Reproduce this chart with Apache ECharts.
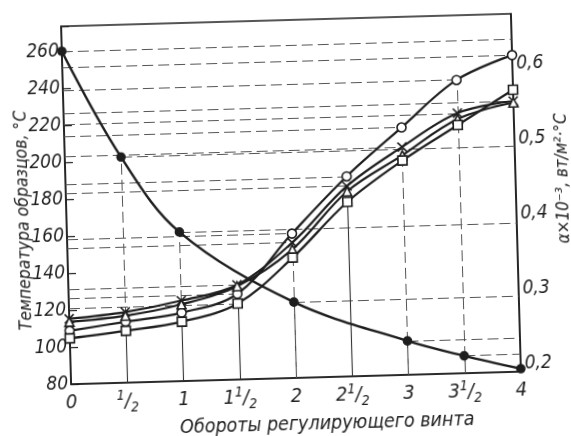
<!DOCTYPE html>
<html><head><meta charset="utf-8">
<script src="https://cdn.jsdelivr.net/npm/echarts@6/dist/echarts.min.js"></script>
<style>
html,body{margin:0;padding:0;background:#fff;overflow:hidden}
#c{width:571px;height:436px;transform:rotate(-1.6deg);transform-origin:291px 199px}
</style>
</head><body><div id="c"></div>
<script>
// ---- data ----
const xTickLabels = ['0', '1/2', '1', '1 1/2', '2', '2 1/2', '3', '3 1/2', '4'];
const alphaX = [0, 0.5, 1, 1.5, 2, 2.5, 3, 3.5, 4];
const tempX = [0, 0.5, 1, 2, 3, 3.5, 4];
const tempVals = [260, 202, 160.6, 121, 98.3, 89.4, 81.6];          // °C, left axis
const circleVals = [0.261, 0.271, 0.281, 0.304, 0.382, 0.456, 0.519, 0.580, 0.611];
const crossVals  = [0.277, 0.284, 0.297, 0.316, 0.370, 0.443, 0.493, 0.536, 0.550];
const triVals    = [0.273, 0.279, 0.292, 0.314, 0.361, 0.436, 0.482, 0.528, 0.548];
const squareVals = [0.251, 0.259, 0.269, 0.291, 0.350, 0.422, 0.475, 0.520, 0.565];
const leftTickLabels = [80, 100, 120, 140, 160, 180, 200, 220, 240, 260];
const rightTickLabels = ['0,2', '0,3', '0,4', '0,5', '0,6'];
// which points carry horizontal guide lines (to the left axis for α curves)
const circleGuideX = [1.5, 2, 2.5, 3, 3.5, 4];
const crossGuideX = [1.5, 2, 2.5, 3, 3.5, 4];
const squareGuideX = [1.5];
// vertical guides: solid part up to one curve, dashed part up to another
const vGuides = [
  {x: 0.5, solid: 'cross', dash: 'temp'},
  {x: 1, solid: 'cross', dash: 'temp'},
  {x: 1.5, solid: 'cross', dash: null},
  {x: 2, solid: 'temp', dash: 'square'},
  {x: 2.5, solid: 'square', dash: null},
  {x: 3, solid: 'temp', dash: 'square'},
  {x: 3.5, solid: 'temp', dash: 'circle'}
];

// ---- chart ----
const FF = '"Liberation Sans Narrow","DejaVu Sans Condensed",sans-serif';
const INK = '#1e1e1e';
const LMIN = 80, LMAX = 273.5, RMIN = 0.19, RMAX = 0.666;
const pairs = (xs, ys) => xs.map((x, i) => [x, ys[i]]);
const valAt = (xs, ys, x) => ys[xs.indexOf(x)];
const series = {
  temp: {xs: tempX, ys: tempVals, bottom: LMIN},
  circle: {xs: alphaX, ys: circleVals, bottom: RMIN},
  cross: {xs: alphaX, ys: crossVals, bottom: RMIN},
  tri: {xs: alphaX, ys: triVals, bottom: RMIN},
  square: {xs: alphaX, ys: squareVals, bottom: RMIN}
};
const dashStyle = {type: [11, 5], color: '#555', width: 1};
const solidStyle = {type: 'solid', color: '#333', width: 1.1};
const mlines = {temp: [], circle: [], cross: [], tri: [], square: []};
tempX.forEach((x, i) => mlines.temp.push([{coord: [x, tempVals[i]], lineStyle: dashStyle}, {coord: [4, tempVals[i]]}]));
circleGuideX.forEach(x => { const v = valAt(alphaX, circleVals, x); mlines.circle.push([{coord: [0, v], lineStyle: dashStyle}, {coord: [x, v]}]); });
crossGuideX.forEach(x => { const v = valAt(alphaX, crossVals, x); mlines.cross.push([{coord: [0, v], lineStyle: dashStyle}, {coord: [x, v]}]); });
squareGuideX.forEach(x => { const v = valAt(alphaX, squareVals, x); mlines.square.push([{coord: [0, v], lineStyle: dashStyle}, {coord: [x, v]}]); });
vGuides.forEach(g => {
  if (g.dash) {
    const s = series[g.dash];
    mlines[g.dash].push([{coord: [g.x, s.bottom], lineStyle: dashStyle}, {coord: [g.x, valAt(s.xs, s.ys, g.x)]}]);
  }
  const s2 = series[g.solid];
  mlines[g.solid].push([{coord: [g.x, s2.bottom], lineStyle: solidStyle}, {coord: [g.x, valAt(s2.xs, s2.ys, g.x)]}]);
});

function mk(name, yIdx, symbol, size, fill, lw) {
  const s = series[name];
  return {
    type: 'line', yAxisIndex: yIdx, data: pairs(s.xs, s.ys), smooth: 0.35,
    symbol: symbol, symbolSize: size, showSymbol: true,
    lineStyle: {color: INK, width: lw},
    itemStyle: {color: fill, borderColor: INK, borderWidth: 1.6},
    emphasis: {disabled: true}, silent: true, z: 3,
    markLine: {silent: true, symbol: ['none', 'none'], label: {show: false}, animation: false, z: 1, data: mlines[name]}
  };
}

const chart = echarts.init(document.getElementById('c'), null, {renderer: 'canvas'});
chart.setOption({
  animation: false,
  backgroundColor: '#fff',
  grid: {left: 66, right: 55, top: 20, bottom: 58, containLabel: false, outerBoundsMode: 'none',
    show: true, borderColor: INK, borderWidth: 1.6, backgroundColor: 'transparent'},
  xAxis: {
    type: 'value', min: 0, max: 4, interval: 0.5,
    name: 'Обороты регулирующего винта', nameLocation: 'middle', nameGap: 37, nameMoveOverlap: false,
    nameTextStyle: {fontFamily: FF, fontStyle: 'italic', fontSize: 19.5, color: INK, padding: [0, 0, 0, 60]},
    axisLine: {show: true, lineStyle: {color: INK, width: 1.6}},
    axisTick: {show: false}, splitLine: {show: false},
    axisLabel: {
      margin: 6, color: INK,
      formatter: v => {
        const t = xTickLabels[Math.round(v * 2)] || '';
        const m = t.match(/^(?:(\d+) )?(\d+)\/(\d+)$/);
        if (m) return (m[1] ? '{n|' + m[1] + '}' : '') + '{u|' + m[2] + '}{s|/}{d|' + m[3] + '}';
        return '{n|' + t + '}';
      },
      rich: {
        n: {fontFamily: FF, fontStyle: 'italic', fontSize: 20, color: INK, lineHeight: 26},
        u: {fontFamily: FF, fontStyle: 'italic', fontSize: 14, color: INK, verticalAlign: 'top'},
        s: {fontFamily: FF, fontStyle: 'italic', fontSize: 20, color: INK, lineHeight: 26},
        d: {fontFamily: FF, fontStyle: 'italic', fontSize: 14, color: INK, verticalAlign: 'bottom'}
      }
    }
  },
  yAxis: [
    {
      type: 'value', position: 'left', min: LMIN, max: LMAX, interval: 20,
      name: 'Температура образцов, °C', nameLocation: 'middle', nameGap: 34, nameRotate: 90, nameMoveOverlap: false,
      nameTextStyle: {fontFamily: FF, fontStyle: 'italic', fontSize: 17.5, color: INK, padding: [0, 28, 0, 0]},
      axisLine: {show: true, lineStyle: {color: INK, width: 1.6}},
      axisTick: {show: true, inside: true, length: 8, lineStyle: {color: INK, width: 1.2}},
      splitLine: {show: false},
      axisLabel: {margin: 3, fontFamily: FF, fontStyle: 'italic', fontSize: 19, color: INK,
        formatter: v => leftTickLabels.indexOf(Math.round(v)) >= 0 && Math.abs(v - Math.round(v)) < 1e-6 ? String(Math.round(v)) : ''}
    },
    {
      type: 'value', position: 'right', min: RMIN, max: RMAX, interval: 0.01,
      name: 'α×10⁻³, вт/м²·°С', nameLocation: 'middle', nameGap: 39, nameRotate: 90, nameMoveOverlap: false,
      nameTextStyle: {fontFamily: FF, fontStyle: 'italic', fontSize: 17, color: INK, padding: [0, 0, 0, 26]},
      axisLine: {show: true, lineStyle: {color: INK, width: 1.6}},
      axisTick: {show: false}, splitLine: {show: false},
      axisLabel: {margin: 4, fontFamily: FF, fontStyle: 'italic', fontSize: 19, color: INK,
        formatter: v => {
          const t = v * 10, r = Math.round(t);
          if (Math.abs(t - r) > 1e-6) return '';
          return rightTickLabels[r - 2] || '';
        }}
    }
  ],
  series: [
    mk('temp', 0, 'circle', 8, INK, 2.4),
    mk('circle', 1, 'circle', 9, '#fff', 2.2),
    mk('cross', 1, 'path://M0,0L10,10M10,0L0,10', 9, INK, 2.2),
    mk('tri', 1, 'triangle', 9, '#fff', 2.2),
    mk('square', 1, 'rect', 9, '#fff', 2.2)
  ]
});
</script>
</body></html>
